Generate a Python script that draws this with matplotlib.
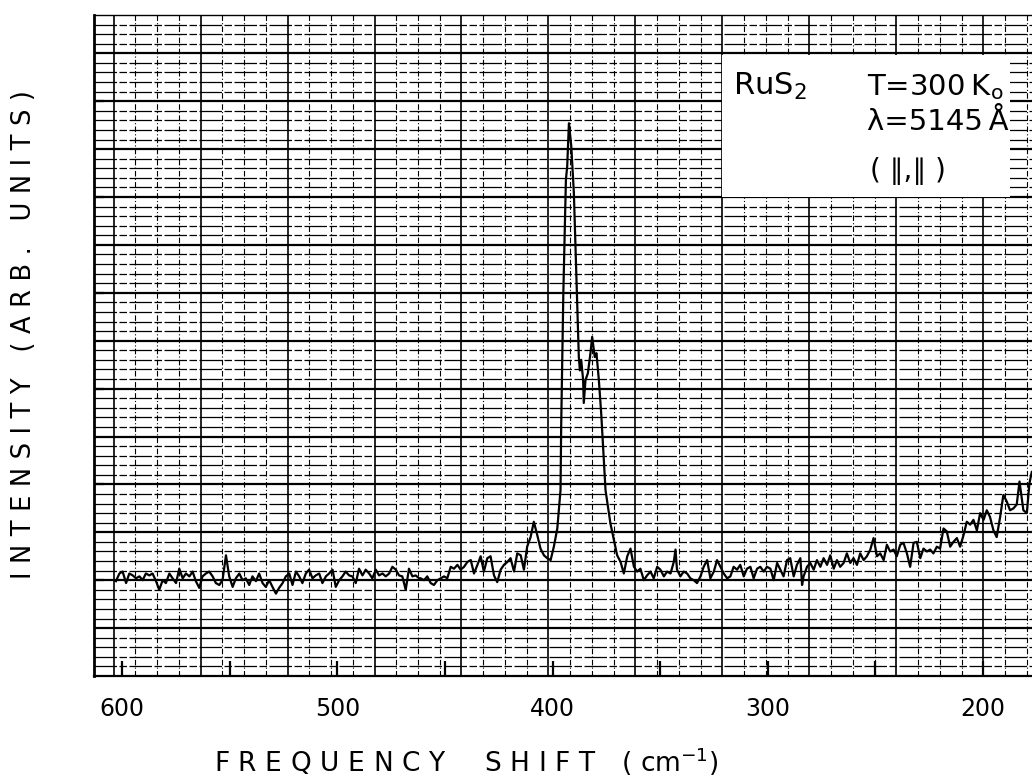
import numpy as np
import matplotlib
matplotlib.use('Agg')
import matplotlib.pyplot as plt
from matplotlib.patches import Rectangle

plt.rcParams['font.family'] = ['DejaVu Sans']

#%% spectrum: frequency shift (cm-1), intensity (chart divisions)

# baseline 600 -> 462
freq_a = [602.8, 601.2, 599.7, 598.1, 596.6, 595.0, 593.5, 591.9, 590.4, 588.9,
          587.3, 585.8, 584.2, 582.7, 581.1, 579.6, 578.0, 576.5, 574.9, 573.4,
          571.8, 570.3, 568.7, 567.2, 565.7, 564.1, 562.6, 561.0, 559.5, 557.9,
          556.4, 554.8, 553.3, 551.7, 550.2, 548.6, 547.1, 545.5, 544.0, 542.5,
          540.9, 539.4, 537.8, 536.3, 534.7, 533.2, 531.6, 530.1, 528.5, 527.0,
          525.4, 523.9, 522.3, 520.8, 519.2, 517.7, 516.2, 514.6, 513.1, 511.5,
          510.0, 508.4, 506.9, 505.3, 503.8, 502.2, 500.7, 499.1, 497.6, 496.1,
          494.5, 493.0, 491.4, 489.9, 488.3, 486.8, 485.2, 483.7, 482.1, 480.6,
          479.0, 477.5, 475.9, 474.4, 472.8, 471.3, 469.8, 468.2, 466.7, 465.1,
          463.6, 462.0]
int_a = [9.9, 10.7, 10.9, 9.7, 10.7, 10.5, 10.2, 10.4, 10.0, 10.7,
         10.5, 10.7, 9.9, 9.0, 10.0, 9.7, 10.7, 10.2, 9.7, 11.2,
         10.2, 10.7, 10.4, 10.9, 9.9, 9.2, 10.4, 10.7, 10.9, 10.4,
         9.7, 9.5, 10.0, 12.6, 10.4, 9.3, 10.2, 10.7, 10.0, 10.2,
         9.5, 10.4, 9.9, 10.7, 9.7, 9.3, 10.0, 9.3, 8.6, 9.2,
         9.7, 10.4, 10.7, 9.5, 10.9, 10.4, 9.7, 10.7, 11.1, 10.2,
         10.5, 10.7, 9.7, 10.4, 10.7, 11.1, 9.3, 10.0, 10.4, 10.9,
         10.5, 10.4, 9.7, 11.2, 10.5, 11.1, 10.7, 10.2, 11.1, 10.5,
         10.7, 10.4, 10.7, 11.4, 11.1, 10.5, 10.4, 9.0, 11.2, 10.4,
         10.5, 10.2]

# shoulder region 461 -> 397
freq_b = [461.3, 459.7, 458.2, 456.6, 455.1, 453.5, 452.0, 450.4, 448.9, 447.3,
          445.8, 444.2, 442.7, 441.1, 439.6, 438.0, 436.5, 434.9, 433.4, 431.9,
          430.3, 428.8, 427.2, 425.7, 424.1, 422.6, 421.0, 419.5, 417.9, 416.4,
          414.8, 413.3, 411.8, 410.2, 408.7, 407.1, 405.6, 404.0, 402.5, 400.9,
          399.4, 397.8, 397.1]
int_b = [10.2, 10.0, 10.4, 9.7, 9.5, 10.0, 10.2, 10.4, 10.2, 11.4,
         11.2, 11.6, 11.1, 11.4, 11.9, 12.1, 10.7, 11.6, 12.5, 10.9,
         12.3, 12.5, 10.5, 9.8, 11.1, 11.6, 11.9, 12.3, 10.9, 12.8,
         12.6, 11.1, 13.5, 14.5, 16.1, 14.7, 13.3, 12.6, 12.3, 12.1,
         13.5, 15.4, 17.3]

# main peaks
freq_c = [396.3, 396.0, 395.0, 393.8, 393.2, 392.4, 391.3, 390.1, 388.9, 387.8,
          387.3, 386.7, 385.8, 385.5, 384.7, 383.6, 382.4, 381.6, 380.4, 379.6,
          378.5, 377.4, 375.4, 373.1, 371.5, 370.0]
int_c = [19.4, 26.0, 39.9, 51.8, 53.2, 57.7, 55.3, 50.4, 41.3, 33.3,
         31.9, 33.0, 30.9, 28.5, 30.9, 31.6, 33.7, 35.4, 33.3, 33.7,
         30.9, 27.4, 19.4, 15.9, 14.2, 12.6]

# baseline 368 -> 319
freq_d = [368.4, 366.9, 365.3, 363.8, 362.2, 360.7, 359.2, 357.6, 356.1, 354.5,
          353.0, 351.4, 349.9, 348.3, 346.8, 345.2, 343.7, 342.9, 342.2, 340.6,
          339.1, 337.5, 336.0, 334.4, 332.9, 331.3, 329.8, 328.2, 326.7, 325.1,
          323.6, 322.0, 320.5, 318.9]
int_d = [11.9, 10.7, 12.5, 13.3, 11.4, 10.9, 11.2, 10.0, 10.5, 10.9,
         10.2, 11.4, 11.1, 10.4, 10.9, 10.7, 11.9, 13.2, 11.1, 10.4,
         10.9, 10.7, 10.2, 10.0, 9.7, 10.4, 11.4, 12.1, 10.2, 10.9,
         12.1, 11.4, 10.7, 10.2]

# rising tail 317 -> 177
freq_e = [317.4, 315.9, 314.3, 312.8, 311.2, 309.7, 308.1, 306.6, 305.0, 303.5,
          301.9, 300.4, 298.8, 297.3, 295.7, 294.2, 292.7, 291.1, 289.6, 288.0,
          286.5, 284.9, 284.1, 283.4, 281.8, 280.3, 278.7, 277.2, 275.6, 274.1,
          272.5, 271.0, 269.4, 267.9, 266.4, 264.8, 263.3, 261.7, 260.2, 258.6,
          257.1, 255.5, 254.0, 252.4, 250.9, 249.3, 247.8, 246.2, 244.7, 243.2,
          241.6, 240.1, 238.5, 237.0, 235.4, 233.9, 232.3, 230.8, 229.2, 227.7,
          226.1, 224.6, 223.1, 221.5, 220.0, 218.4, 216.9, 215.3, 213.8, 212.2,
          210.7, 209.1, 207.6, 206.0, 204.5, 202.9, 201.4, 199.8, 198.3, 196.8,
          195.2, 193.7, 192.1, 190.6, 189.0, 187.5, 185.9, 184.4, 183.1, 181.3,
          179.7, 178.5, 177.4]
int_e = [10.4, 11.4, 11.1, 11.6, 10.4, 11.2, 11.4, 10.2, 11.2, 11.4,
         10.9, 11.4, 11.2, 10.0, 11.8, 11.1, 10.4, 12.1, 12.3, 10.4,
         11.6, 12.3, 9.5, 10.4, 11.4, 11.8, 11.1, 12.1, 11.4, 12.3,
         11.6, 12.6, 11.2, 12.1, 11.4, 11.8, 12.8, 11.8, 12.3, 11.6,
         12.8, 12.1, 12.5, 13.2, 14.4, 12.5, 12.8, 12.1, 13.7, 13.0,
         13.2, 12.5, 13.7, 13.9, 12.8, 11.4, 13.9, 14.0, 12.3, 13.3,
         13.0, 13.2, 12.8, 13.5, 13.3, 15.4, 15.1, 13.5, 14.0, 14.4,
         13.5, 14.7, 16.1, 15.8, 16.3, 15.2, 17.0, 16.3, 17.3, 16.6,
         15.2, 14.5, 16.6, 18.9, 18.2, 17.3, 17.5, 17.9, 20.3, 17.3,
         17.0, 20.1, 21.3]

freq = freq_a + freq_b + freq_c + freq_d + freq_e
intensity = int_a + int_b + int_c + int_d + int_e

tick_major = [600, 500, 400, 300, 200]
tick_minor = [550, 450, 350, 250]

#%% plot

fig = plt.figure(figsize=(10.32, 7.81), dpi=100)
ax = fig.add_axes([94/1032, 105/781, 938/1032, 661/781])

ax.set_xlim(613, 177.3)
ax.set_ylim(0, 69)

# chart paper grid
for k, fx in enumerate(np.arange(603.9, 176.0, -10.1)):
    if k % 4 == 0:
        ax.axvline(fx, color='k', lw=1.2, zorder=1)
    else:
        ax.axvline(fx, color='k', lw=0.8, ls=(0, (5, 2, 1, 2)), zorder=1)
for j in range(1, 69):
    if j % 5 == 0:
        ax.axhline(j, color='k', lw=1.6, zorder=1)
    else:
        ax.axhline(j, color='k', lw=0.9, ls=(0, (18, 2, 6, 2)), zorder=1)

# white label box
ax.add_patch(Rectangle((0.670, 0.7247), 0.3066, 0.2148, transform=ax.transAxes,
                       facecolor='white', edgecolor='none', zorder=3))

ax.plot(freq, intensity, color='k', lw=1.6, zorder=4)

ax.text(0.681, 0.879, 'RuS$_2$', transform=ax.transAxes, fontsize=22,
        va='baseline', zorder=5)
ax.text(0.824, 0.879, 'T=300\u2009K$_\\mathrm{o}$', transform=ax.transAxes,
        fontsize=21, va='baseline', zorder=5)
ax.text(0.824, 0.826, '\u03bb=5145\u2009\u00c5', transform=ax.transAxes,
        fontsize=21, va='baseline', zorder=5)
ax.text(0.8275, 0.764, '( \u2225,\u2225 )', transform=ax.transAxes,
        fontsize=20, va='center', zorder=5)

# axes frame & ticks
ax.spines['right'].set_visible(False)
ax.spines['left'].set_linewidth(2.0)
ax.spines['bottom'].set_linewidth(1.6)
ax.spines['top'].set_linewidth(1.0)
for s in ax.spines.values():
    s.set_zorder(6)

ax.set_xticks(tick_major)
ax.set_xticklabels([str(t) for t in tick_major])
ax.set_xticks(tick_minor, minor=True)
ax.tick_params(axis='x', which='both', direction='in', length=11, width=1.6,
               pad=15, labelsize=17, top=False)
ax.set_yticks(range(10, 70, 10))
ax.set_yticklabels([])
ax.tick_params(axis='y', direction='in', length=7, width=1.6, right=False)

def spaced(word, gap):
    return gap.join(word)

GAP = '\u2004'
xlab = (spaced('FREQUENCY', GAP) + '\u2003\u2002' + spaced('SHIFT', GAP) + '\u2003'
        + '(' + GAP + 'cm$^{-1}$' + ')')
fig.text(0.4516, 0.0115, xlab, fontsize=19, ha='center', va='baseline')

ylab = (spaced('INTENSITY', GAP) + '\u2003' + spaced('(ARB.', GAP) + '\u2003'
        + spaced('UNITS)', GAP))
fig.text(0.0233, 0.571, ylab, fontsize=18.5, rotation=90, ha='center', va='center')

plt.savefig('out.png', dpi=100)
